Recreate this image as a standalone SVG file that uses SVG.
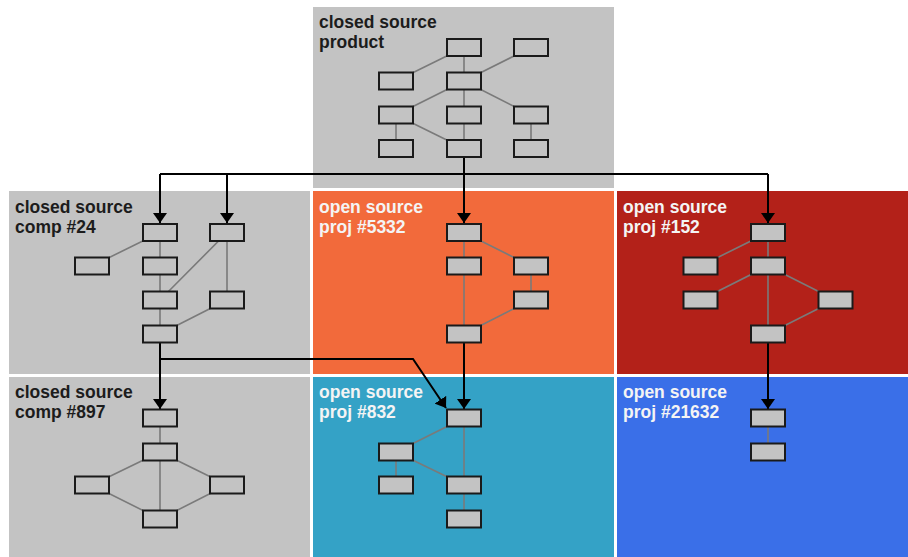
<svg xmlns="http://www.w3.org/2000/svg" width="908" height="557" viewBox="0 0 908 557">
  <style>
    .panel-gray { fill: #c3c3c3; }
    .lbl { font-family: "Liberation Sans", Arial, sans-serif; font-weight: bold; font-size: 17.5px; }
    .dark { fill: #1c1c1c; }
    .light { fill: #f4f4f4; }
    .n { fill: #c3c3c3; stroke: #1a1a1a; stroke-width: 2; }
    .edge { stroke: #7a7a7a; stroke-width: 1.6; fill: none; }
    .link { stroke: #000; stroke-width: 2; fill: none; }
  </style>
  <defs>
    <marker id="arrow" viewBox="0 0 10 14" refX="10" refY="7" markerWidth="10" markerHeight="14" markerUnits="userSpaceOnUse" orient="auto">
      <path d="M0,0 L10,7 L0,14 Z" fill="#000"/>
    </marker>
    <rect id="box" x="-17" y="-8.5" width="34" height="17"/>
  </defs>

  <rect width="908" height="557" fill="#ffffff"/>

  <!-- panels -->
  <g id="panel-product">
    <rect class="panel-gray" x="313" y="7" width="301" height="181"/>
    <text class="lbl dark" x="319" y="28">closed source</text>
    <text class="lbl dark" x="319" y="48">product</text>
  </g>
  <g id="panel-comp24">
    <rect class="panel-gray" x="9" y="191" width="301" height="183"/>
    <text class="lbl dark" x="15" y="213">closed source</text>
    <text class="lbl dark" x="15" y="233">comp #24</text>
  </g>
  <g id="panel-proj5332">
    <rect fill="#f26a3b" x="313" y="191" width="301" height="183"/>
    <text class="lbl light" x="319" y="213">open source</text>
    <text class="lbl light" x="319" y="233">proj #5332</text>
  </g>
  <g id="panel-proj152">
    <rect fill="#b32119" x="617" y="191" width="291" height="183"/>
    <text class="lbl light" x="623" y="213">open source</text>
    <text class="lbl light" x="623" y="233">proj #152</text>
  </g>
  <g id="panel-comp897">
    <rect class="panel-gray" x="9" y="377" width="301" height="180"/>
    <text class="lbl dark" x="15" y="398">closed source</text>
    <text class="lbl dark" x="15" y="418">comp #897</text>
  </g>
  <g id="panel-proj832">
    <rect fill="#34a2c6" x="313" y="377" width="301" height="180"/>
    <text class="lbl light" x="319" y="398">open source</text>
    <text class="lbl light" x="319" y="418">proj #832</text>
  </g>
  <g id="panel-proj21632">
    <rect fill="#3a6fe8" x="617" y="377" width="291" height="180"/>
    <text class="lbl light" x="623" y="398">open source</text>
    <text class="lbl light" x="623" y="418">proj #21632</text>
  </g>

  <!-- internal dependency edges -->
  <g id="edges">
    <!-- product -->
    <path class="edge" d="M464,47.5 L396,81 M464,47.5 L464,81 M531,47.5 L464,81 M464,81 L396,115 M464,81 L464,115 M464,81 L531,115 M396,115 L396,148.5 M396,115 L464,148.5 M464,115 L464,148.5 M531,115 L531,148.5"/>
    <!-- comp #24 -->
    <path class="edge" d="M160,232.5 L92,266 M160,232.5 L160,334 M227,232.5 L160,300 M227,232.5 L227,300 M227,300 L160,334"/>
    <!-- proj #5332 -->
    <path class="edge" d="M464,232.5 L464,334 M464,232.5 L531,266 M531,266 L531,300 M531,300 L464,334"/>
    <!-- proj #152 -->
    <path class="edge" d="M768,232.5 L700.5,266 M768,232.5 L768,334 M768,266 L700.5,300 M768,266 L835.5,300 M835.5,300 L768,334"/>
    <!-- comp #897 -->
    <path class="edge" d="M160,418 L160,519 M160,452 L92,485 M160,452 L227,485 M92,485 L160,519 M227,485 L160,519"/>
    <!-- proj #832 -->
    <path class="edge" d="M464,418 L396,452 M464,418 L464,519 M396,452 L396,485 M396,452 L464,485"/>
    <!-- proj #21632 -->
    <path class="edge" d="M768,418 L768,452"/>
  </g>

  <!-- connectors between components -->
  <g id="connectors">
    <path class="link" d="M464,157 L464,174 M160,174 L768,174"/>
    <path class="link" d="M160,174 L160,223" marker-end="url(#arrow)"/>
    <path class="link" d="M227,174 L227,223" marker-end="url(#arrow)"/>
    <path class="link" d="M464,174 L464,223" marker-end="url(#arrow)"/>
    <path class="link" d="M768,174 L768,223" marker-end="url(#arrow)"/>
    <path class="link" d="M160,342 L160,409" marker-end="url(#arrow)"/>
    <path class="link" d="M160,359 L413,359 L446,408" marker-end="url(#arrow)"/>
    <path class="link" d="M464,342 L464,409" marker-end="url(#arrow)"/>
    <path class="link" d="M768,342 L768,409" marker-end="url(#arrow)"/>
  </g>

  <!-- nodes -->
  <g id="nodes-product">
    <use href="#box" class="n" x="464" y="47.5"/>
    <use href="#box" class="n" x="531" y="47.5"/>
    <use href="#box" class="n" x="396" y="81"/>
    <use href="#box" class="n" x="464" y="81"/>
    <use href="#box" class="n" x="396" y="115"/>
    <use href="#box" class="n" x="464" y="115"/>
    <use href="#box" class="n" x="531" y="115"/>
    <use href="#box" class="n" x="396" y="148.5"/>
    <use href="#box" class="n" x="464" y="148.5"/>
    <use href="#box" class="n" x="531" y="148.5"/>
  </g>
  <g id="nodes-comp24">
    <use href="#box" class="n" x="160" y="232.5"/>
    <use href="#box" class="n" x="227" y="232.5"/>
    <use href="#box" class="n" x="92" y="266"/>
    <use href="#box" class="n" x="160" y="266"/>
    <use href="#box" class="n" x="160" y="300"/>
    <use href="#box" class="n" x="227" y="300"/>
    <use href="#box" class="n" x="160" y="334"/>
  </g>
  <g id="nodes-proj5332">
    <use href="#box" class="n" x="464" y="232.5"/>
    <use href="#box" class="n" x="464" y="266"/>
    <use href="#box" class="n" x="531" y="266"/>
    <use href="#box" class="n" x="531" y="300"/>
    <use href="#box" class="n" x="464" y="334"/>
  </g>
  <g id="nodes-proj152">
    <use href="#box" class="n" x="768" y="232.5"/>
    <use href="#box" class="n" x="700.5" y="266"/>
    <use href="#box" class="n" x="768" y="266"/>
    <use href="#box" class="n" x="700.5" y="300"/>
    <use href="#box" class="n" x="835.5" y="300"/>
    <use href="#box" class="n" x="768" y="334"/>
  </g>
  <g id="nodes-comp897">
    <use href="#box" class="n" x="160" y="418"/>
    <use href="#box" class="n" x="160" y="452"/>
    <use href="#box" class="n" x="92" y="485"/>
    <use href="#box" class="n" x="227" y="485"/>
    <use href="#box" class="n" x="160" y="519"/>
  </g>
  <g id="nodes-proj832">
    <use href="#box" class="n" x="464" y="418"/>
    <use href="#box" class="n" x="396" y="452"/>
    <use href="#box" class="n" x="396" y="485"/>
    <use href="#box" class="n" x="464" y="485"/>
    <use href="#box" class="n" x="464" y="519"/>
  </g>
  <g id="nodes-proj21632">
    <use href="#box" class="n" x="768" y="418"/>
    <use href="#box" class="n" x="768" y="452"/>
  </g>
</svg>
